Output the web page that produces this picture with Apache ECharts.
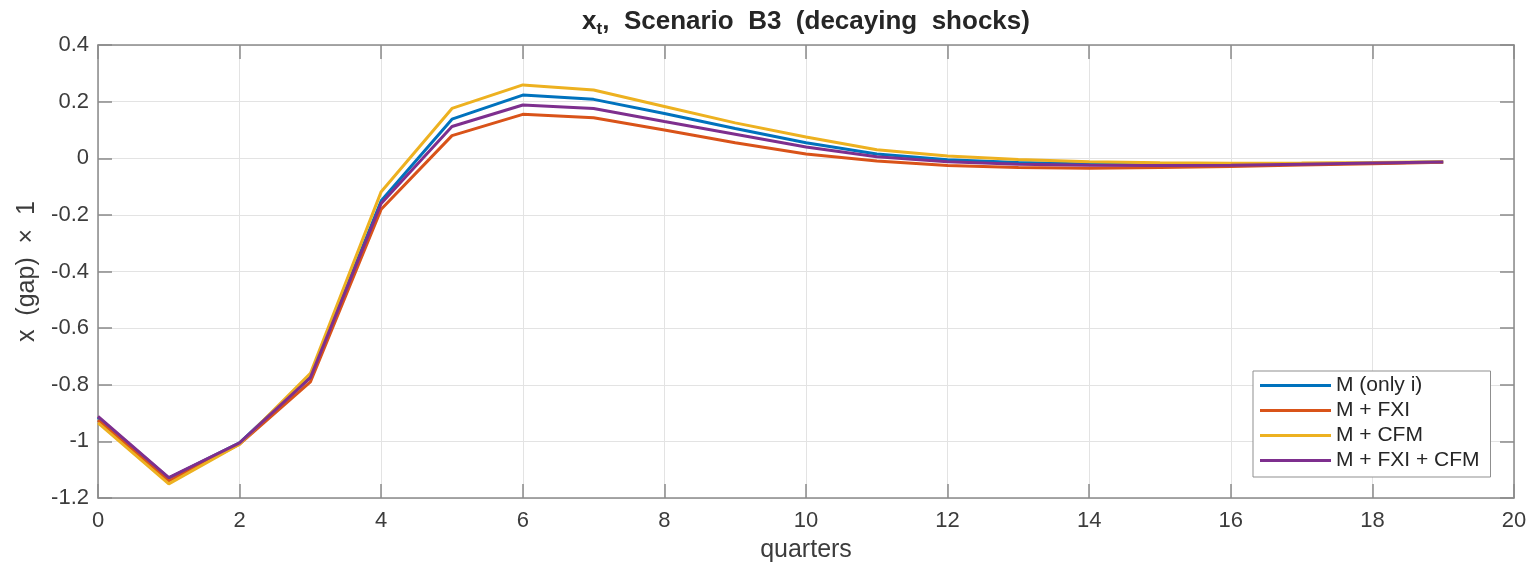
<!DOCTYPE html>
<html>
<head>
<meta charset="utf-8">
<script src="https://cdn.jsdelivr.net/npm/echarts@6/dist/echarts.min.js"></script>
<style>
  html, body { margin: 0; padding: 0; background: #ffffff; }
  #chart { width: 1532px; height: 565px; }
</style>
</head>
<body>
<div id="chart"></div>
<script>
// Output gap x_t after decaying shocks, quarters 0..19
const quarters = [0, 1, 2, 3, 4, 5, 6, 7, 8, 9, 10, 11, 12, 13, 14, 15, 16, 17, 18, 19];

const onlyI   = [-0.915, -1.130, -1.005, -0.770, -0.150, 0.138, 0.223, 0.208, 0.158, 0.105, 0.055, 0.015, -0.005, -0.015, -0.020, -0.024, -0.024, -0.021, -0.017, -0.013];
const withFXI = [-0.925, -1.140, -1.010, -0.790, -0.180, 0.080, 0.155, 0.143, 0.100, 0.055, 0.015, -0.010, -0.026, -0.033, -0.035, -0.033, -0.029, -0.024, -0.019, -0.014];
const withCFM = [-0.935, -1.150, -1.010, -0.760, -0.118, 0.176, 0.259, 0.241, 0.183, 0.125, 0.075, 0.030, 0.008, -0.004, -0.012, -0.016, -0.018, -0.017, -0.015, -0.012];
const withBoth = [-0.912, -1.128, -1.005, -0.775, -0.160, 0.112, 0.188, 0.176, 0.130, 0.085, 0.040, 0.005, -0.012, -0.021, -0.025, -0.026, -0.025, -0.021, -0.017, -0.013];

const seriesNames = ['M (only i)', 'M + FXI', 'M + CFM', 'M + FXI + CFM'];
const seriesColors = ['#0072BD', '#D95319', '#EDB120', '#7E2F8E'];
const seriesValues = [onlyI, withFXI, withCFM, withBoth];

const xTicks = { min: 0, max: 20, interval: 2 };
const yTicks = { min: -1.2, max: 0.4, interval: 0.2 };

const FONT = '"Liberation Sans", Arial, Helvetica, sans-serif';
const AXIS_COLOR = '#8a8a8a';
const LABEL_COLOR = '#3c3c3c';
const GRID_COLOR = '#e3e3e3';

// Plain axis used to close the box on the top and right sides
function boxAxis(extra) {
  return Object.assign({
    type: 'value',
    axisLine: { show: true, onZero: false, lineStyle: { color: AXIS_COLOR, width: 1.5 } },
    axisTick: { show: true, inside: true, length: 14, lineStyle: { color: AXIS_COLOR, width: 1.5 } },
    splitLine: { show: false },
    axisLabel: { show: false }
  }, extra);
}

const chart = echarts.init(document.getElementById('chart'), null, { renderer: 'canvas' });

chart.setOption({
  animation: false,
  backgroundColor: '#ffffff',
  textStyle: { fontFamily: FONT },
  title: {
    text: '{b|x}{s|t}{b|,  Scenario  B3  (decaying  shocks)}',
    left: 806,
    textAlign: 'center',
    top: 6,
    padding: 0,
    textStyle: {
      rich: {
        b: { fontFamily: FONT, fontWeight: 'bold', fontSize: 26, color: '#262626', lineHeight: 32, verticalAlign: 'middle' },
        s: { fontFamily: FONT, fontWeight: 'bold', fontSize: 17, color: '#262626', lineHeight: 17, verticalAlign: 'bottom' }
      }
    }
  },
  grid: { left: 98, top: 45, right: 18, bottom: 67, containLabel: false, outerBoundsMode: 'none' },
  legend: {
    orient: 'vertical',
    left: 1253,
    top: 371,
    padding: [4, 11, 6, 7],
    itemGap: 4,
    itemWidth: 71,
    itemHeight: 3,
    icon: 'rect',
    backgroundColor: '#ffffff',
    borderColor: '#8f8f8f',
    borderWidth: 1,
    borderRadius: 0,
    textStyle: { fontFamily: FONT, fontSize: 21, color: '#262626', lineHeight: 21 },
    data: seriesNames
  },
  xAxis: [
    {
      type: 'value',
      min: xTicks.min, max: xTicks.max, interval: xTicks.interval,
      name: 'quarters',
      nameLocation: 'middle',
      nameGap: 40,
      nameTextStyle: { fontFamily: FONT, fontSize: 25, color: LABEL_COLOR },
      axisLine: { show: true, onZero: false, lineStyle: { color: AXIS_COLOR, width: 1.5 } },
      axisTick: { show: true, inside: true, length: 14, lineStyle: { color: AXIS_COLOR, width: 1.5 } },
      axisLabel: { fontFamily: FONT, fontSize: 22, color: LABEL_COLOR, margin: 12 },
      splitLine: { show: true, lineStyle: { color: GRID_COLOR, width: 1 } }
    },
    boxAxis({ position: 'top', min: xTicks.min, max: xTicks.max, interval: xTicks.interval })
  ],
  yAxis: [
    {
      type: 'value',
      min: yTicks.min, max: yTicks.max, interval: yTicks.interval,
      name: 'x  (gap)  \u00d7  1',
      nameLocation: 'middle',
      nameGap: 58,
      nameTextStyle: { fontFamily: FONT, fontSize: 25, color: LABEL_COLOR },
      axisLine: { show: true, onZero: false, lineStyle: { color: AXIS_COLOR, width: 1.5 } },
      axisTick: { show: true, inside: true, length: 14, lineStyle: { color: AXIS_COLOR, width: 1.5 } },
      axisLabel: { fontFamily: FONT, fontSize: 22, color: LABEL_COLOR, margin: 9 },
      splitLine: { show: true, lineStyle: { color: GRID_COLOR, width: 1 } }
    },
    boxAxis({ position: 'right', min: yTicks.min, max: yTicks.max, interval: yTicks.interval })
  ],
  series: seriesNames.map((name, i) => ({
    name: name,
    type: 'line',
    xAxisIndex: 0,
    yAxisIndex: 0,
    data: quarters.map((q, k) => [q, seriesValues[i][k]]),
    showSymbol: false,
    symbol: 'none',
    color: seriesColors[i],
    lineStyle: { color: seriesColors[i], width: 3 },
    z: 2 + i
  }))
});
</script>
</body>
</html>
